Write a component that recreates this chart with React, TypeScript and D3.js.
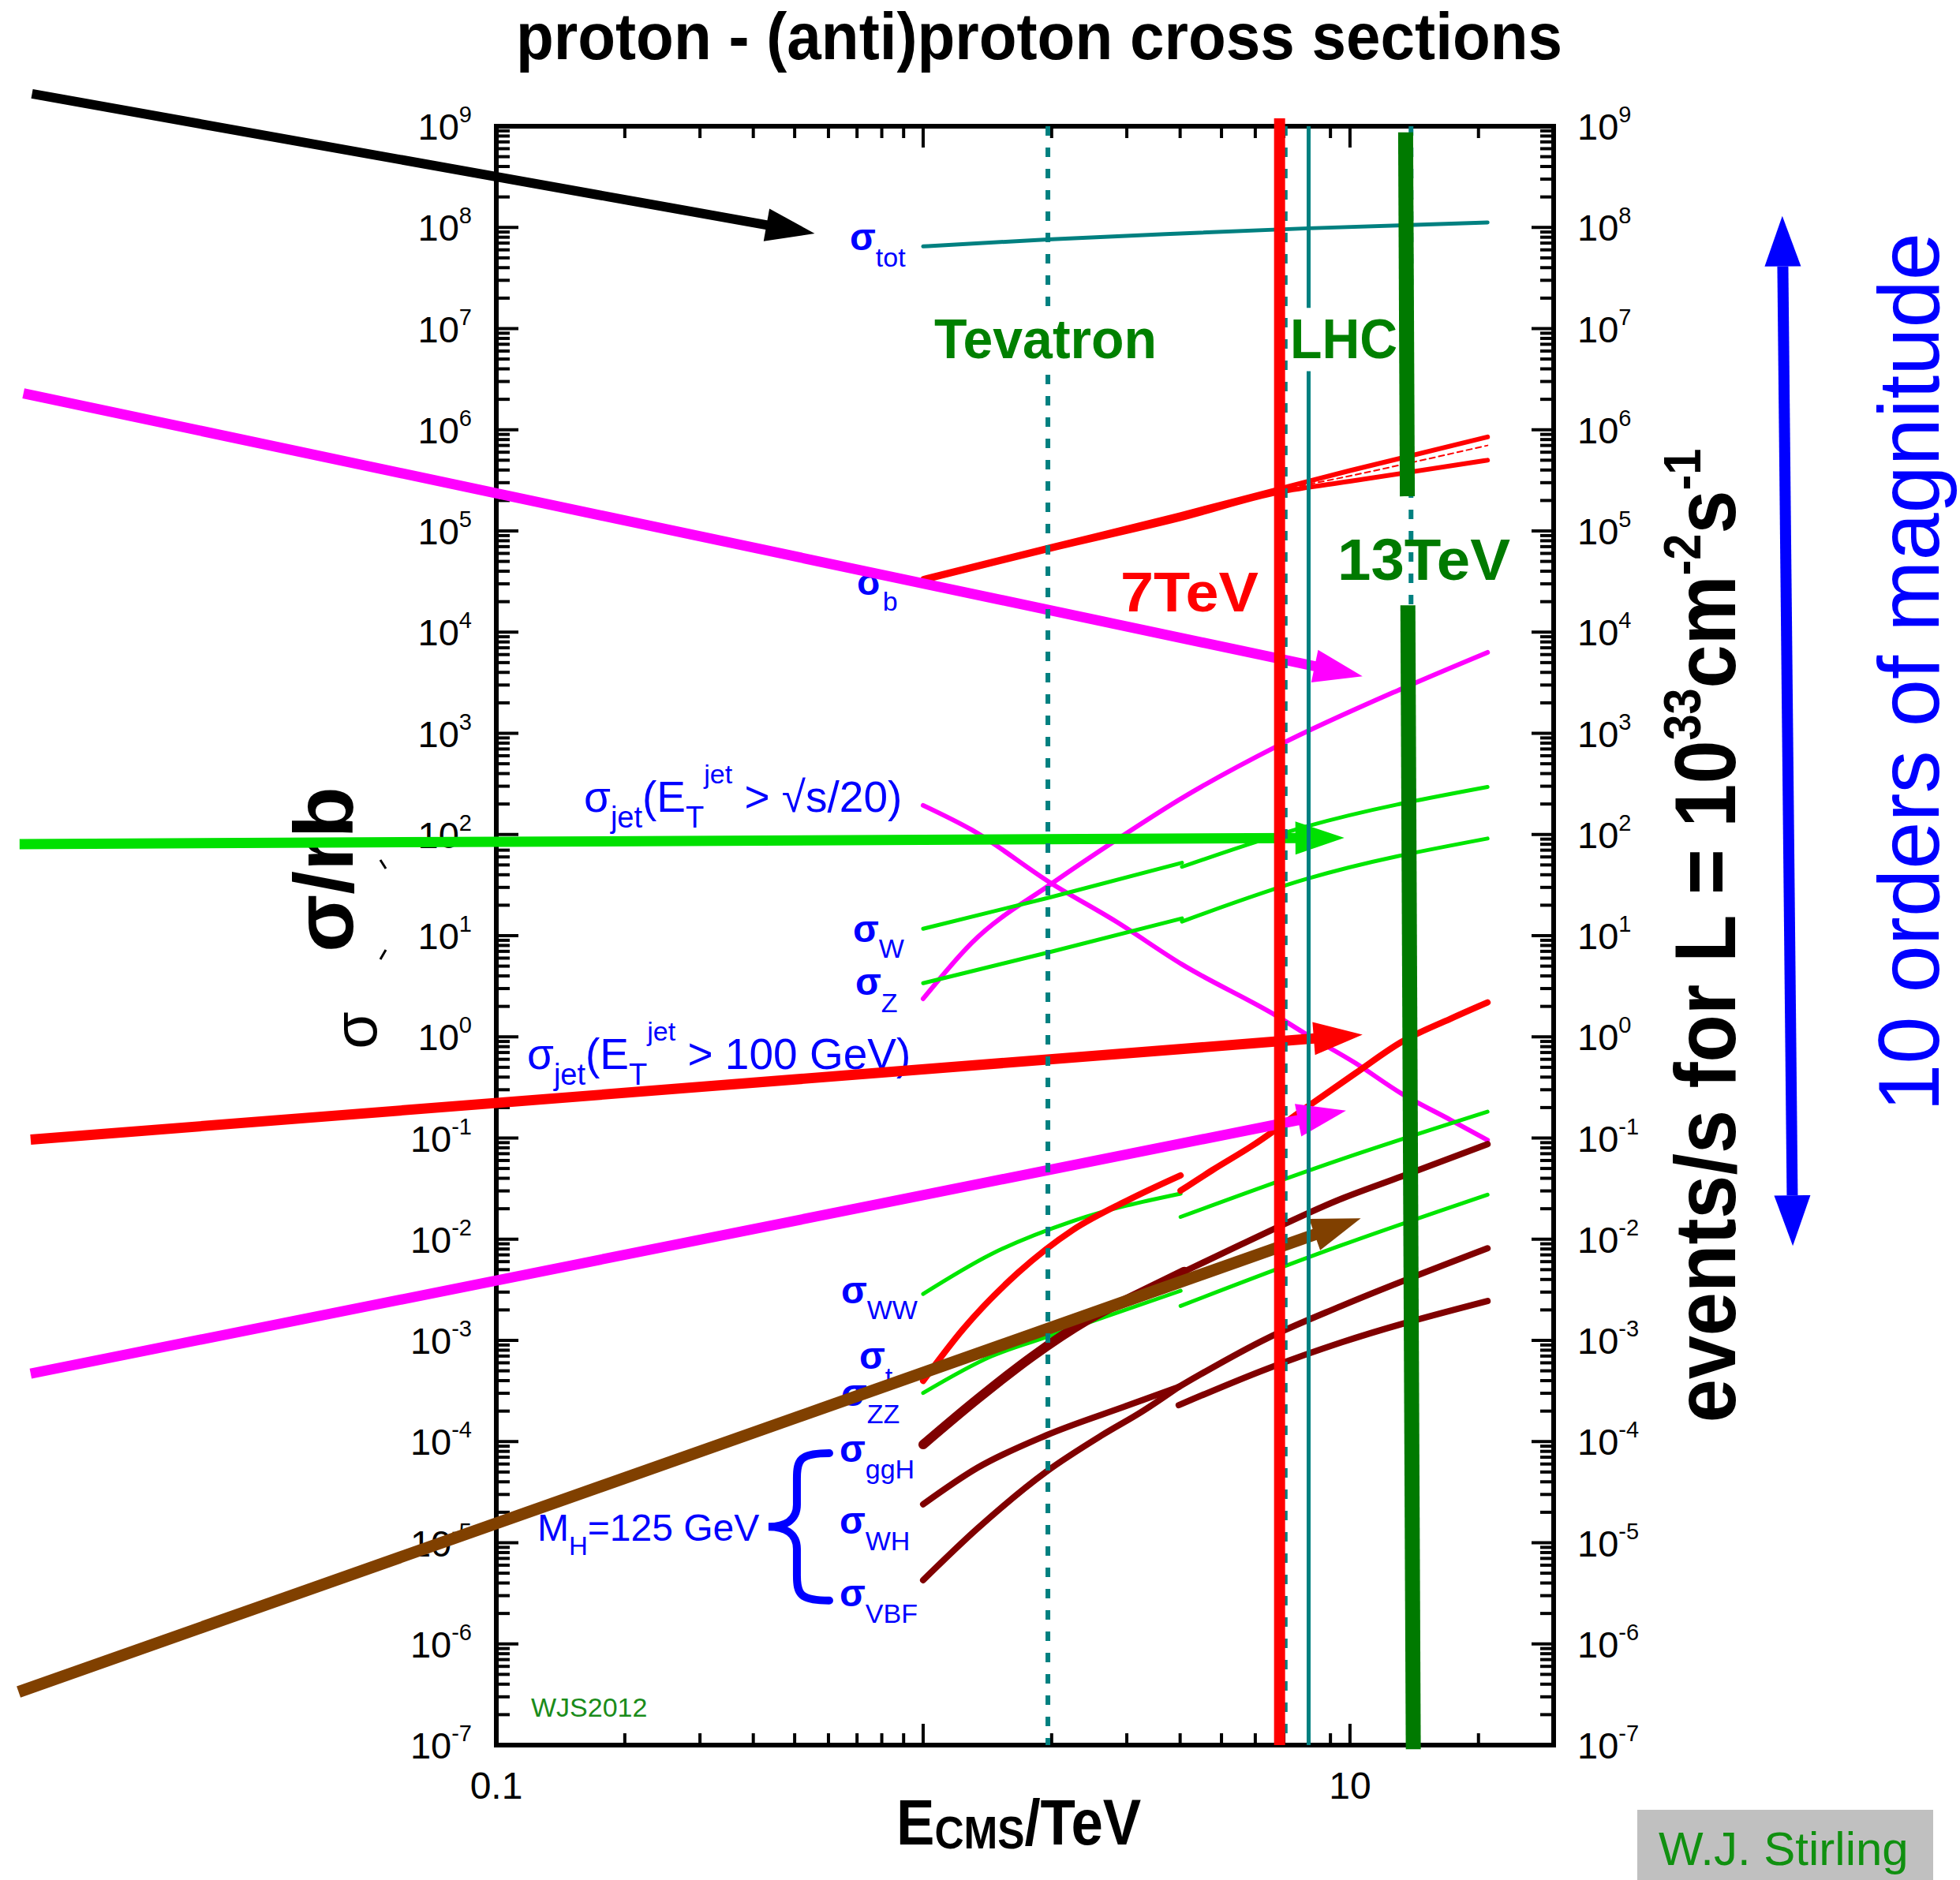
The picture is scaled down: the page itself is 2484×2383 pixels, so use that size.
import * as d3 from 'd3';
import React from 'react';

const FONT = "'Liberation Sans', Arial, Helvetica, sans-serif";
const TEAL = '#008080';
const RED = '#ff0000';
const MAGENTA = '#ff00ff';
const LIME = '#00e600';
const DARKRED = '#800000';
const BROWN = '#804000';
const BLUE = '#0000ff';
const DKGREEN = '#007a00';

// cross sections in nb, energies in TeV
const totE = [1, 1.96, 4, 8, 21];
const totSigma = [6.5e7, 7.6e7, 8.7e7, 9.8e7, 1.12e8];

const bE = [1, 1.96, 4, 6.8, 10, 21];
const bUpper = [3.4e4, 6.9e4, 1.45e5, 2.6e5, 3.95e5, 8.5e5];
const bMid = [3.3e4, 6.7e4, 1.38e5, 2.5e5, 3.5e5, 7.0e5];
const bLower = [3.2e4, 6.5e4, 1.32e5, 2.4e5, 3.1e5, 5.0e5];

const jetSqrtE = [1, 1.3, 2.0, 2.83, 4.04, 6.8, 7.9, 10.3, 13.2, 17.2, 21];
const jetSqrtSigma = [194, 111, 32.7, 13.8, 5.2, 1.57, 1.06, 0.55, 0.275, 0.151, 0.0955];

const jet100E = [1, 1.3, 2.0, 2.83, 4.04, 6.8, 13.2, 21];
const jet100Sigma = [2.38, 8.5, 32.7, 87.9, 229, 759, 2750, 6310];

const wPbarE = [1, 1.99, 4.04];
const wPbarSigma = [11.7, 24.0, 52.5];
const wPpE = [4.04, 7.9, 21];
const wPpSigma = [47.9, 120, 295];

const zPbarE = [1, 1.99, 4.04];
const zPbarSigma = [3.39, 6.92, 14.8];
const zPpE = [4.04, 7.9, 21];
const zPpSigma = [13.8, 36.3, 91.2];

const topPbarE = [1, 1.24, 1.67, 2.24, 3.03, 4.01];
const topPbarSigma = [3.98e-4, 1.29e-3, 4.68e-3, 0.0123, 0.0245, 0.0427];
const topPpE = [4.01, 4.75, 5.93, 7.9, 10.3, 13.2, 17.2, 21];
const topPpSigma = [0.0302, 0.0479, 0.0851, 0.2, 0.437, 0.891, 1.51, 2.19];

const wwPbarE = [1, 1.44, 2.24, 4.01];
const wwPbarSigma = [2.88e-3, 7.08e-3, 0.0151, 0.0282];
const wwPpE = [4.01, 9.55, 21];
const wwPpSigma = [0.0166, 0.0617, 0.182];

const zzPbarE = [1, 1.44, 2.0, 4.01];
const zzPbarSigma = [3.02e-4, 6.92e-4, 1.12e-3, 3.09e-3];
const zzPpE = [4.01, 9.55, 21];
const zzPpSigma = [2.19e-3, 8.71e-3, 0.0275];

const ggHPbarE = [1, 1.34, 1.8, 2.42, 3.27, 4.09];
const ggHPbarSigma = [9.33e-5, 2.63e-4, 6.92e-4, 1.58e-3, 3.02e-3, 4.79e-3];
const ggHPpE = [4.09, 5.51, 9.55, 13.2, 21];
const ggHPpSigma = [4.79e-3, 8.71e-3, 0.0251, 0.0417, 0.0871];

const whPbarE = [1, 1.34, 1.94, 3.03, 3.97];
const whPbarSigma = [2.4e-5, 5.5e-5, 1.15e-4, 2.29e-4, 3.47e-4];
const whPpE = [3.97, 6.4, 9.55, 21];
const whPpSigma = [2.29e-4, 5.25e-4, 9.55e-4, 2.45e-3];

const vbfPbarE = [1, 1.34, 1.94, 2.62, 3.27, 3.97];
const vbfPbarSigma = [4.27e-6, 1.38e-5, 5.01e-5, 1.15e-4, 2.0e-4, 3.47e-4];
const vbfPpE = [3.97, 6.4, 9.55, 21];
const vbfPpSigma = [3.47e-4, 1.05e-3, 2.19e-3, 8.13e-3];

// collider energies (TeV)
const tevatronE = 1.96;
const lhc7E = 7.05;
const red7E = 6.84;
const lhc8E = 8;
const lhc14E = 13.9;
const bar13E = [13.5, 14.07];

// annotation arrows: [E start, sigma start, E tip, sigma tip]
const arrowBlack = [8.17e-3, 2.09e9, 0.557, 8.7e7];
const arrowMagentaTop = [7.8e-3, 2.29e6, 10.7, 3.66e3];
const arrowGreen = [7.64e-3, 80.4, 9.7, 92.7];
const arrowRed = [8.11e-3, 0.0964, 10.7, 1.05];
const arrowMagentaLow = [8.11e-3, 4.69e-4, 9.79, 0.187];
const arrowBrown = [7.6e-3, 3.35e-7, 10.6, 0.0161];
const arrowBlueSpan = [103, 1.3e8, 109, 8.6e-3];

type Pt = [number, number];

function Arrow({ p, q, color, width, headLen = 62, headHalf = 21 }: {
  p: Pt; q: Pt; color: string; width: number; headLen?: number; headHalf?: number;
}) {
  const dx = q[0] - p[0];
  const dy = q[1] - p[1];
  const len = Math.hypot(dx, dy);
  const ux = dx / len, uy = dy / len;
  const nx = -uy, ny = ux;
  const bx = q[0] - ux * headLen, by = q[1] - uy * headLen;
  return (
    <g>
      <line x1={p[0]} y1={p[1]} x2={bx + ux * 4} y2={by + uy * 4} stroke={color} strokeWidth={width} />
      <polygon
        points={`${q[0]},${q[1]} ${bx + nx * headHalf},${by + ny * headHalf} ${bx - nx * headHalf},${by - ny * headHalf}`}
        fill={color}
      />
    </g>
  );
}

function Sig({ px, py, sub, subDy = 21 }: { px: number; py: number; sub: string; subDy?: number }) {
  return (
    <text x={px} y={py} fill={BLUE} fontFamily={FONT}>
      <tspan fontSize={48} fontWeight="bold">σ</tspan>
      <tspan fontSize={34} dy={subDy}>{sub}</tspan>
    </text>
  );
}

const App: React.FC = () => {
  const x = d3.scaleLog().domain([0.1, 30]).range([629, 1969]);
  const y = d3.scaleLog().domain([1e-7, 1e9]).range([2212, 160]);
  const [left, right] = x.range();
  const [bottom, top] = y.range();

  const line = d3
    .line<Pt>()
    .x((d) => x(d[0]))
    .y((d) => y(d[1]))
    .curve(d3.curveMonotoneX);
  const trace = (es: number[], ss: number[]) =>
    line(es.map((e, i) => [e, ss[i]] as Pt)) ?? '';

  const isMajor = (t: number) =>
    Math.abs(Math.log10(t) - Math.round(Math.log10(t))) < 1e-6;
  const yTicks = y.ticks(20);
  const xTicks = x.ticks().filter((t) => t < 30);

  const curves = [
    { d: trace(totE, totSigma), c: TEAL, w: 5 },
    { d: trace(bE, bUpper), c: RED, w: 6 },
    { d: trace(bE, bLower), c: RED, w: 6 },
    { d: trace(bE, bMid), c: RED, w: 2, dash: '7 5' },
    { d: trace(jetSqrtE, jetSqrtSigma), c: MAGENTA, w: 6 },
    { d: trace(jet100E, jet100Sigma), c: MAGENTA, w: 6 },
    { d: trace(wPbarE, wPbarSigma), c: LIME, w: 5 },
    { d: trace(wPpE, wPpSigma), c: LIME, w: 5 },
    { d: trace(zPbarE, zPbarSigma), c: LIME, w: 5 },
    { d: trace(zPpE, zPpSigma), c: LIME, w: 5 },
    { d: trace(wwPbarE, wwPbarSigma), c: LIME, w: 5 },
    { d: trace(wwPpE, wwPpSigma), c: LIME, w: 5 },
    { d: trace(zzPbarE, zzPbarSigma), c: LIME, w: 5 },
    { d: trace(zzPpE, zzPpSigma), c: LIME, w: 5 },
    { d: trace(topPbarE, topPbarSigma), c: RED, w: 8 },
    { d: trace(topPpE, topPpSigma), c: RED, w: 8 },
    { d: trace(ggHPbarE, ggHPbarSigma), c: DARKRED, w: 12 },
    { d: trace(ggHPpE, ggHPpSigma), c: DARKRED, w: 8 },
    { d: trace(whPbarE, whPbarSigma), c: DARKRED, w: 8 },
    { d: trace(whPpE, whPpSigma), c: DARKRED, w: 8 },
    { d: trace(vbfPbarE, vbfPbarSigma), c: DARKRED, w: 8 },
    { d: trace(vbfPpE, vbfPpSigma), c: DARKRED, w: 8 },
  ];

  const toPx = (a: number[]): [Pt, Pt] => [
    [x(a[0]), y(a[1])],
    [x(a[2]), y(a[3])],
  ];
  const arrows = [
    { a: toPx(arrowBlack), c: '#000000', w: 12 },
    { a: toPx(arrowMagentaTop), c: MAGENTA, w: 13 },
    { a: toPx(arrowGreen), c: '#00e000', w: 13 },
    { a: toPx(arrowRed), c: RED, w: 13 },
    { a: toPx(arrowMagentaLow), c: MAGENTA, w: 13 },
    { a: toPx(arrowBrown), c: BROWN, w: 15 },
  ];

  const x1 = x(1);
  const dotted = { stroke: TEAL, strokeWidth: 6, strokeDasharray: '12 15' };

  // slanted 13 TeV bar
  const barTop = y(8.7e8);
  const barBot = y(9.1e-8);
  const barX = (py: number) =>
    x(bar13E[0]) + ((py - barTop) / (barBot - barTop)) * (x(bar13E[1]) - x(bar13E[0]));
  const gapHi = y(2.2e5);
  const gapLo = y(1.84e4);

  const [blueTop, blueBot] = toPx(arrowBlueSpan);

  const yGGH = y(6.3e-5);
  const yVBF = y(2.37e-6);
  const bTop = yGGH - 11;
  const bBot = yVBF - 7;
  const bMidY = (bTop + bBot) / 2;
  const bx0 = x1 - 196;
  const bxm = x1 - 160;
  const bxr = x1 - 119;
  const brace = `M${bxr},${bTop} C${bxm + 4},${bTop} ${bxm},${bTop + 8} ${bxm},${bTop + 32}
    L${bxm},${bMidY - 28} C${bxm},${bMidY - 8} ${bxm - 16},${bMidY} ${bx0},${bMidY}
    C${bxm - 16},${bMidY} ${bxm},${bMidY + 8} ${bxm},${bMidY + 28}
    L${bxm},${bBot - 32} C${bxm},${bBot - 8} ${bxm + 4},${bBot} ${bxr},${bBot}`;

  return (
    <svg
      width={2484}
      height={2383}
      style={{ position: 'absolute', left: 0, top: 0, background: 'white' }}
      fontFamily={FONT}
    >
      <rect x={0} y={0} width={2484} height={2383} fill="white" />

      {/* title */}
      <text x={1317} y={75} textAnchor="middle" fontSize={83} fontWeight="bold" textLength={1326} lengthAdjust="spacingAndGlyphs">
        proton - (anti)proton cross sections
      </text>

      {/* ticks */}
      <g stroke="black" strokeWidth={4}>
        {yTicks.map((t, i) => {
          const len = isMajor(t) ? 28 : 17;
          return (
            <g key={`y${i}`}>
              <line x1={left} x2={left + len} y1={y(t)} y2={y(t)} />
              <line x1={right} x2={right - len} y1={y(t)} y2={y(t)} />
            </g>
          );
        })}
        {xTicks.map((t, i) => {
          const len = isMajor(t) ? 27 : 15;
          return (
            <g key={`x${i}`}>
              <line x1={x(t)} x2={x(t)} y1={bottom} y2={bottom - len} />
              <line x1={x(t)} x2={x(t)} y1={top} y2={top + len} />
            </g>
          );
        })}
      </g>
      <rect x={left} y={top} width={right - left} height={bottom - top} fill="none" stroke="black" strokeWidth={6} />

      {/* y tick labels */}
      {yTicks.filter(isMajor).map((t, i) => {
        const p = Math.round(Math.log10(t));
        return (
          <g key={`yl${i}`} fontSize={47}>
            <text x={598} y={y(t) + 17} textAnchor="end">
              10<tspan fontSize={29} dy={-22}>{p < 0 ? `-${-p}` : `${p}`}</tspan>
            </text>
            <text x={1999} y={y(t) + 17}>
              10<tspan fontSize={29} dy={-22}>{p < 0 ? `-${-p}` : `${p}`}</tspan>
            </text>
          </g>
        );
      })}

      {/* x tick labels */}
      <text x={x(0.1)} y={2280} textAnchor="middle" fontSize={48}>0.1</text>
      <text x={x(10)} y={2280} textAnchor="middle" fontSize={48}>10</text>

      {/* x axis title */}
      <text transform="translate(1136,2338) scale(0.885,1)" fontWeight="bold" fontSize={82}>
        E<tspan fontSize={58} dy={5}>CMS</tspan><tspan dy={-5}>/TeV</tspan>
      </text>

      {/* left y axis title */}
      <text transform="translate(447,1102) rotate(-90)" textAnchor="middle" fontWeight="bold" fontSize={105} textLength={210} lengthAdjust="spacingAndGlyphs">
        σ/rb
      </text>
      <text transform="translate(477,1306) rotate(-90)" textAnchor="middle" fontSize={77}>σ</text>
      <g stroke="black" strokeWidth={3}>
        <line x1={482} y1={1090} x2={489} y2={1101} />
        <line x1={489} y1={1204} x2={482} y2={1216} />
      </g>

      {/* right y axis title */}
      <text transform="translate(2199,1186) rotate(-90) scale(0.9,1)" textAnchor="middle" fontWeight="bold" fontSize={110}>
        events/s for L = 10<tspan fontSize={66} dy={-44}>33</tspan>
        <tspan dy={44}>cm</tspan>
        <tspan fontSize={66} dy={-44}>-2</tspan>
        <tspan dy={44}>s</tspan>
        <tspan fontSize={66} dy={-44}>-1</tspan>
      </text>

      <text transform="translate(2457,852) rotate(-90)" textAnchor="middle" fontSize={110} fill={BLUE} textLength={1114} lengthAdjust="spacingAndGlyphs">
        10 orders of magnitude
      </text>

      {/* curves */}
      <g fill="none" strokeLinecap="round" strokeLinejoin="round">
        {curves.map((c, i) => (
          <path key={i} d={c.d} stroke={c.c} strokeWidth={c.w} strokeDasharray={c.dash} />
        ))}
      </g>

      {/* curve labels */}
      <Sig px={x1 - 93} py={y(6.0e7)} sub="tot" />
      <Sig px={x1 - 84} py={y(2.32e4)} sub="b" subDy={20} />
      <Sig px={x1 - 89} py={y(8.7)} sub="W" subDy={20} />
      <Sig px={x1 - 86} py={y(2.61)} sub="Z" subDy={22} />
      <Sig px={x1 - 104} py={y(2.31e-3)} sub="WW" subDy={20} />
      <Sig px={x1 - 81} py={y(5.22e-4)} sub="t" subDy={22} />
      <Sig px={x1 - 104} py={y(2.25e-4)} sub="ZZ" subDy={22} />
      <Sig px={x1 - 106} py={y(6.3e-5)} sub="ggH" subDy={21} />
      <Sig px={x1 - 106} py={y(1.23e-5)} sub="WH" subDy={21} />
      <Sig px={x1 - 106} py={y(2.37e-6)} sub="VBF" subDy={21} />

      <text x={x1 - 430} y={y(167)} fill={BLUE} fontSize={55}>
        σ<tspan fontSize={38} dy={20}>jet</tspan>
        <tspan dy={-20}>(E</tspan>
        <tspan fontSize={38} dy={20}>T</tspan>
        <tspan fontSize={34} dy={-56}>jet</tspan>
        <tspan dy={36}> &gt; √s/20)</tspan>
      </text>
      <text x={x1 - 502} y={y(0.484)} fill={BLUE} fontSize={55}>
        σ<tspan fontSize={38} dy={20}>jet</tspan>
        <tspan dy={-20}>(E</tspan>
        <tspan fontSize={38} dy={20}>T</tspan>
        <tspan fontSize={34} dy={-56}>jet</tspan>
        <tspan dy={36}> &gt; 100 GeV)</tspan>
      </text>

      <text x={x1 - 489} y={y(1.05e-5)} fill={BLUE} fontSize={48}>
        M<tspan fontSize={33} dy={18}>H</tspan>
        <tspan dy={-18}>=125 GeV</tspan>
      </text>
      <path d={brace} fill="none" stroke={BLUE} strokeWidth={10} strokeLinecap="round" />

      <text x={673} y={2176} fontSize={34} fill="#1a8c1a">WJS2012</text>

      {/* arrows */}
      {arrows.map((a, i) => (
        <Arrow key={i} p={a.a[0]} q={a.a[1]} color={a.c} width={a.w} />
      ))}

      {/* collider lines */}
      <line x1={x(tevatronE)} x2={x(tevatronE)} y1={top} y2={y(1.5e7)} {...dotted} />
      <line x1={x(tevatronE)} x2={x(tevatronE)} y1={y(3.5e6)} y2={bottom} {...dotted} />
      <line x1={x(lhc7E)} x2={x(lhc7E)} y1={top} y2={bottom} {...dotted} />
      <line x1={x(lhc14E)} x2={x(lhc14E)} y1={top} y2={bottom} {...dotted} />
      <line x1={x(lhc8E)} x2={x(lhc8E)} y1={top} y2={y(1.6e7)} stroke={TEAL} strokeWidth={5} />
      <line x1={x(lhc8E)} x2={x(lhc8E)} y1={y(3.8e6)} y2={bottom} stroke={TEAL} strokeWidth={5} />
      <line x1={x(red7E)} x2={x(red7E)} y1={top - 10} y2={bottom} stroke={RED} strokeWidth={14} />
      <line x1={barX(barTop)} x2={barX(gapHi)} y1={barTop} y2={gapHi} stroke={DKGREEN} strokeWidth={19} />
      <line x1={barX(gapLo)} x2={barX(barBot)} y1={gapLo} y2={barBot} stroke={DKGREEN} strokeWidth={19} />

      {/* collider labels */}
      <g fontWeight="bold">
        <text x={x(tevatronE) - 3} y={454} textAnchor="middle" fontSize={70} fill="#008000" textLength={282} lengthAdjust="spacingAndGlyphs">Tevatron</text>
        <text x={1635} y={454} fontSize={70} fill="#008000" textLength={136} lengthAdjust="spacingAndGlyphs">LHC</text>
        <text x={1420} y={775} fontSize={71} fill={RED} textLength={175} lengthAdjust="spacingAndGlyphs">7TeV</text>
        <text x={1695} y={735} fontSize={75} fill={DKGREEN} textLength={219} lengthAdjust="spacingAndGlyphs">13TeV</text>
      </g>

      {/* 10 orders of magnitude arrow */}
      <g>
        {(() => {
          const [p, q] = [blueTop, blueBot];
          const dx = q[0] - p[0], dy = q[1] - p[1];
          const len = Math.hypot(dx, dy);
          const ux = dx / len, uy = dy / len, nx = -uy, ny = ux;
          const hl = 64, hw = 23;
          const b1 = [p[0] + ux * hl, p[1] + uy * hl];
          const b2 = [q[0] - ux * hl, q[1] - uy * hl];
          return (
            <>
              <line x1={b1[0]} y1={b1[1]} x2={b2[0]} y2={b2[1]} stroke={BLUE} strokeWidth={14} />
              <polygon points={`${p[0]},${p[1]} ${b1[0] + nx * hw},${b1[1] + ny * hw} ${b1[0] - nx * hw},${b1[1] - ny * hw}`} fill={BLUE} />
              <polygon points={`${q[0]},${q[1]} ${b2[0] + nx * hw},${b2[1] + ny * hw} ${b2[0] - nx * hw},${b2[1] - ny * hw}`} fill={BLUE} />
            </>
          );
        })()}
      </g>

      {/* credit */}
      <rect x={2075} y={2294} width={375} height={89} fill="#c0c0c0" />
      <text x={2102} y={2364} fontSize={60} fill="#109010">W.J. Stirling</text>
    </svg>
  );
};

export default App;
